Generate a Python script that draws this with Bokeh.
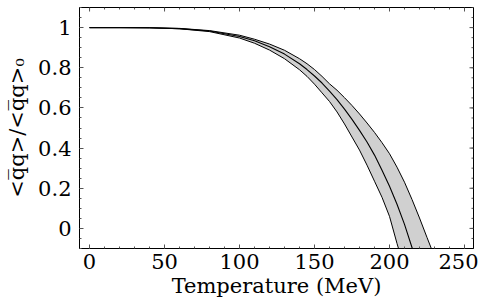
from math import pi
from bokeh.plotting import figure
from bokeh.models import LinearAxis, Range1d, FixedTicker, ColumnDataSource
from bokeh.embed import file_html
from bokeh.resources import INLINE

# Temperature (MeV)
T = [0, 20, 40, 60, 80, 100, 110, 120, 130, 140, 145, 150, 155, 160, 165, 170, 175,
     180, 185, 190, 195, 200, 205, 210, 215, 220, 225, 230]
# central curve
central = [1.0, 1.0, 0.999, 0.995, 0.983, 0.956, 0.934, 0.905, 0.868, 0.820, 0.791, 0.759,
           0.724, 0.684, 0.641, 0.594, 0.543, 0.488, 0.430, 0.365, 0.290, 0.210, 0.120,
           0.020, -0.095, -0.21, -0.33, -0.45]
# lower edge of the band
lower = [1.0, 1.0, 0.999, 0.994, 0.980, 0.948, 0.922, 0.888, 0.845, 0.790, 0.757, 0.718,
         0.675, 0.632, 0.580, 0.520, 0.455, 0.390, 0.315, 0.235, 0.155, 0.060, -0.075,
         -0.20, -0.32, -0.44, -0.56, -0.68]
# upper edge of the band
upper = [1.0, 1.0, 0.999, 0.996, 0.985, 0.962, 0.942, 0.918, 0.887, 0.845, 0.820, 0.791,
         0.757, 0.720, 0.688, 0.651, 0.612, 0.570, 0.525, 0.478, 0.427, 0.372, 0.305,
         0.230, 0.144, 0.052, -0.045, -0.14]

x_ticks = [0, 50, 100, 150, 200, 250]
y_ticks = [0, 0.2, 0.4, 0.6, 0.8, 1]
x_minor = list(range(0, 260, 10))
y_minor = [round(-0.1 + 0.05 * i, 2) for i in range(0, 25)]

X0, X1, Y0, Y1 = -6.7, 256, -0.1, 1.1

src = ColumnDataSource(dict(T=T, c=central, lo=lower, hi=upper))

p = figure(width=478, height=300, output_backend="svg", toolbar_location=None,
           x_range=Range1d(X0, X1), y_range=Range1d(Y0, Y1),
           x_axis_location=None, y_axis_location=None,
           min_border_left=79, min_border_right=5, min_border_top=7, min_border_bottom=51)
p.grid.visible = False
p.outline_line_color = "black"
p.outline_line_width = 1
p.background_fill_color = "white"
p.border_fill_color = "white"

p.varea(x="T", y1="lo", y2="hi", source=src, fill_color="#d0d0d0")
p.line(x="T", y="lo", source=src, line_color="black", line_width=1)
p.line(x="T", y="hi", source=src, line_color="black", line_width=1)
p.line(x="T", y="c", source=src, line_color="black", line_width=1.1)

tc = "#555555"
p.ray(x=x_ticks, y=[Y1] * len(x_ticks), length=4, length_units="screen",
      angle=-pi / 2, line_color=tc, line_width=1)
p.ray(x=x_minor, y=[Y1] * len(x_minor), length=2, length_units="screen",
      angle=-pi / 2, line_color=tc, line_width=1)
p.ray(x=[X1] * len(y_ticks), y=y_ticks, length=4, length_units="screen",
      angle=pi, line_color=tc, line_width=1)
p.ray(x=[X1] * len(y_minor), y=y_minor, length=2, length_units="screen",
      angle=pi, line_color=tc, line_width=1)

font = "DejaVu Serif"
fs = "21px"

def style(ax, minor, ticks):
    ax.ticker = FixedTicker(ticks=ticks, minor_ticks=minor)
    ax.axis_line_color = "black"
    ax.major_tick_in = 4
    ax.major_tick_out = 0
    ax.minor_tick_in = 2
    ax.minor_tick_out = 0
    ax.major_tick_line_color = tc
    ax.minor_tick_line_color = tc
    ax.major_label_text_font = font
    ax.major_label_text_font_size = fs
    ax.major_label_text_color = "black"
    ax.axis_label_text_font = font
    ax.axis_label_text_font_size = fs
    ax.axis_label_text_font_style = "normal"
    ax.axis_label_text_color = "black"

xb = LinearAxis(axis_label="Temperature (MeV)")
style(xb, x_minor, x_ticks)
xb.major_label_standoff = 5
xb.axis_label_standoff = 2
p.add_layout(xb, "below")

yl = LinearAxis(axis_label="<q\u0305q>/<q\u0305q>\u2080")
style(yl, y_minor, y_ticks)
yl.major_label_standoff = 8
yl.axis_label_standoff = 6
p.add_layout(yl, "left")

open("out.html", "w").write(file_html(p, INLINE))
